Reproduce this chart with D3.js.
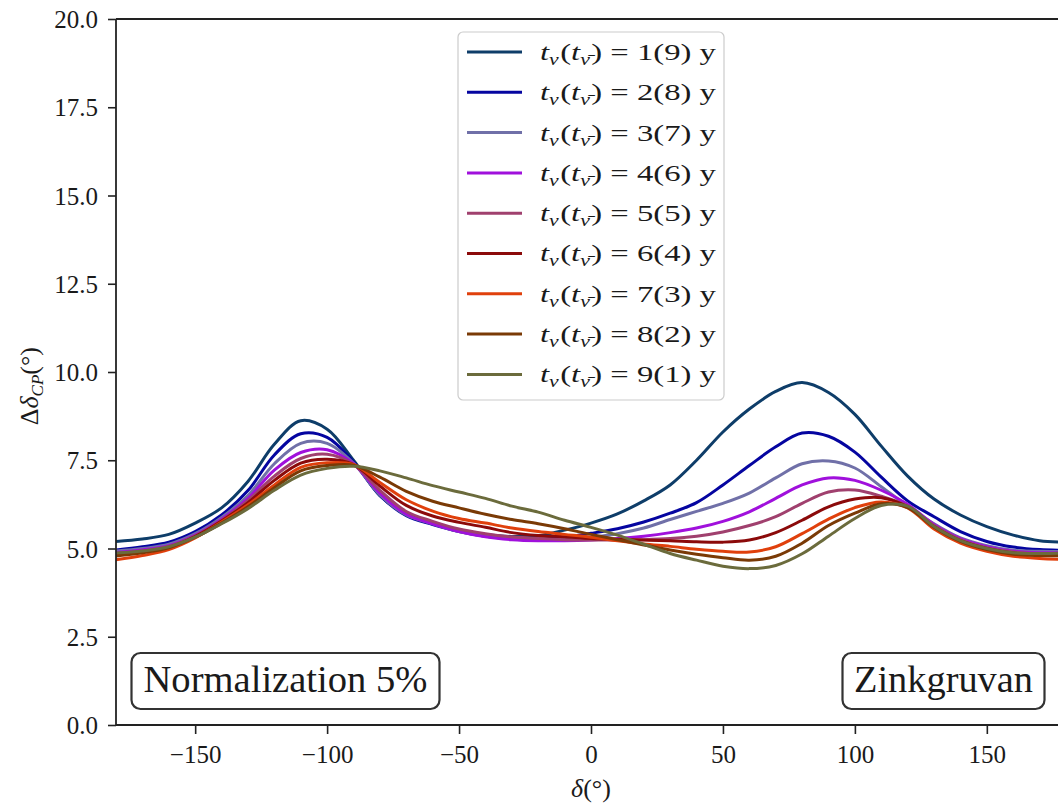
<!DOCTYPE html>
<html>
<head>
<meta charset="utf-8">
<script src="https://cdn.jsdelivr.net/npm/d3@7"></script>
<style>
html,body{margin:0;padding:0;background:#fff;}
svg{display:block;}
text{font-family:"Liberation Serif","Times New Roman",serif;fill:#1a1a1a;}
</style>
</head>
<body>
<svg id="chart" width="1058" height="808"></svg>
<script>
// ---- data ----
const deltas = [-180,-170,-160,-150,-140,-130,-120,-110,-100,-90,-80,-70,-60,-50,-40,-30,-20,-10,0,10,20,30,40,50,60,70,80,90,100,110,120,130,140,150,160,170,180];
const seriesNames = ["1(9)","2(8)","3(7)","4(6)","5(5)","6(4)","7(3)","8(2)","9(1)"];
const seriesColors = ["#0e3d69","#0505a0","#7070a8","#a010dc","#a0406e","#8b0a0a","#e0400c","#7a3a06","#6b6b3c"];
const s1 = [5.20,5.27,5.40,5.72,6.15,6.90,7.95,8.62,8.38,7.50,6.50,5.98,5.72,5.52,5.40,5.34,5.36,5.52,5.72,5.98,6.35,6.80,7.50,8.30,8.95,9.45,9.70,9.42,8.80,7.90,7.05,6.40,5.95,5.62,5.38,5.22,5.18];
const s2 = [4.96,5.05,5.18,5.48,5.95,6.64,7.65,8.25,8.15,7.45,6.50,5.93,5.68,5.48,5.35,5.28,5.26,5.32,5.43,5.56,5.75,6.00,6.30,6.80,7.35,7.88,8.27,8.18,7.73,7.02,6.35,5.90,5.48,5.20,5.04,4.97,4.95];
const s3 = [4.93,5.00,5.12,5.42,5.88,6.50,7.40,7.98,7.98,7.42,6.52,5.95,5.70,5.48,5.35,5.28,5.24,5.26,5.32,5.42,5.58,5.82,6.05,6.28,6.57,7.00,7.40,7.48,7.28,6.75,6.20,5.70,5.30,5.08,4.95,4.92,4.92];
const s4 = [4.89,4.96,5.08,5.38,5.83,6.42,7.22,7.72,7.80,7.40,6.57,5.97,5.70,5.48,5.33,5.25,5.22,5.22,5.24,5.28,5.35,5.45,5.58,5.77,6.04,6.42,6.80,7.00,6.93,6.65,6.25,5.68,5.28,5.05,4.92,4.88,4.88];
const s5 = [4.86,4.93,5.06,5.36,5.80,6.36,7.05,7.55,7.67,7.38,6.65,6.05,5.77,5.55,5.42,5.33,5.28,5.25,5.24,5.24,5.25,5.28,5.35,5.47,5.65,5.90,6.28,6.60,6.66,6.48,6.20,5.65,5.25,5.02,4.90,4.85,4.85];
const s6 = [4.82,4.90,5.03,5.34,5.78,6.30,6.93,7.42,7.53,7.38,6.77,6.22,5.92,5.74,5.60,5.45,5.37,5.33,5.28,5.26,5.24,5.22,5.19,5.18,5.24,5.45,5.80,6.18,6.40,6.44,6.18,5.62,5.22,5.00,4.87,4.82,4.81];
const s7 = [4.68,4.80,4.97,5.30,5.75,6.24,6.80,7.30,7.43,7.38,6.87,6.38,6.06,5.85,5.72,5.58,5.48,5.40,5.32,5.22,5.13,5.06,4.98,4.92,4.90,5.05,5.42,5.83,6.16,6.32,6.15,5.55,5.15,4.92,4.78,4.72,4.69];
const s8 = [4.79,4.88,5.02,5.32,5.72,6.18,6.72,7.20,7.35,7.36,7.02,6.62,6.34,6.15,5.97,5.82,5.70,5.56,5.40,5.25,5.10,4.96,4.84,4.74,4.67,4.78,5.15,5.65,6.00,6.27,6.16,5.60,5.20,4.97,4.84,4.80,4.79];
const s9 = [4.87,4.93,5.05,5.32,5.70,6.13,6.65,7.08,7.27,7.33,7.20,7.00,6.78,6.60,6.42,6.20,6.03,5.80,5.60,5.38,5.12,4.86,4.67,4.50,4.43,4.52,4.85,5.35,5.85,6.22,6.20,5.62,5.22,5.00,4.88,4.86,4.87];
const seriesValues = [s1,s2,s3,s4,s5,s6,s7,s8,s9];
const xTicks = [-150,-100,-50,0,50,100,150];
const yTicks = [0,2.5,5,7.5,10,12.5,15,17.5,20];
const annotations = ["Normalization 5%","Zinkgruvan"];

// ---- layout ----
const svg = d3.select("#chart");
const pL = 116, pT = 19, pR = 1066, pB = 725;
const x = d3.scaleLinear().domain([-180,180]).range([pL, pR]);
const y = d3.scaleLinear().domain([0,20]).range([pB, pT]);

svg.append("defs").append("clipPath").attr("id","clip")
  .append("rect").attr("x",pL).attr("y",pT).attr("width",pR-pL).attr("height",pB-pT);

// lines
const line = d3.line().x((d,i)=>x(deltas[i])).y(d=>y(d)).curve(d3.curveCatmullRom.alpha(0.5));
const g = svg.append("g").attr("clip-path","url(#clip)");
seriesValues.forEach((vals,k)=>{
  g.append("path").datum(vals).attr("d",line)
    .attr("fill","none").attr("stroke",seriesColors[k]).attr("stroke-width",3)
    .attr("stroke-linejoin","round").attr("stroke-linecap","round");
});

// axes
const xAxis = d3.axisBottom(x).tickValues(xTicks).tickSize(9).tickPadding(8).tickFormat(d3.format("d"));
const yAxis = d3.axisLeft(y).tickValues(yTicks).tickSize(8).tickPadding(10).tickFormat(d3.format(".1f"));
const gx = svg.append("g").attr("transform",`translate(0,${pB})`).call(xAxis);
const gy = svg.append("g").attr("transform",`translate(${pL},0)`).call(yAxis);
[gx,gy].forEach(a=>{
  a.attr("font-family","'Liberation Serif','Times New Roman',serif").attr("font-size",25);
  a.select(".domain").remove();
  a.selectAll(".tick line").attr("stroke","#222").attr("stroke-width",1.6);
  a.selectAll(".tick text").attr("font-size",25).attr("fill","#1a1a1a")
    .attr("font-family","'Liberation Serif','Times New Roman',serif");
});
gx.selectAll(".tick text").attr("y",38).attr("dy",0);
gy.selectAll(".tick text").attr("dy","0.34em");

// spines
const spine = svg.append("g").attr("stroke","#222").attr("stroke-width",1.8).attr("fill","none");
spine.append("line").attr("x1",pL).attr("x2",pL).attr("y1",pT).attr("y2",pB);
spine.append("line").attr("x1",pL).attr("x2",pR).attr("y1",pT).attr("y2",pT);
spine.append("line").attr("x1",pL).attr("x2",pR).attr("y1",pB).attr("y2",pB);

// axis labels
const xl = svg.append("text").attr("x",x(0)).attr("y",797).attr("text-anchor","middle").attr("font-size",26);
xl.append("tspan").attr("font-style","italic").text("δ");
xl.append("tspan").text("(°)");

const yl = svg.append("text").attr("transform",`translate(38,${y(9.6)}) rotate(-90)`).attr("text-anchor","middle").attr("font-size",26);
yl.append("tspan").text("Δ");
yl.append("tspan").attr("font-style","italic").text("δ");
yl.append("tspan").attr("font-style","italic").attr("font-size",17).attr("dy",5).text("CP");
yl.append("tspan").attr("dy",-5).text("(°)");

// legend
const legX = 458, legY = 32, legW = 266, legH = 368, rowH = 40.3;
const leg = svg.append("g");
leg.append("rect").attr("x",legX).attr("y",legY).attr("width",legW).attr("height",legH)
  .attr("rx",5).attr("fill","#fff").attr("fill-opacity",0.85).attr("stroke","#cccccc").attr("stroke-width",1.2);
seriesNames.forEach((nm,k)=>{
  const cy = legY + 20 + k*rowH;
  leg.append("line").attr("x1",legX+9).attr("x2",legX+64).attr("y1",cy).attr("y2",cy)
    .attr("stroke",seriesColors[k]).attr("stroke-width",3);
  const tx = legX+82;
  const t = leg.append("text").attr("x",tx).attr("y",cy+8).attr("font-size",24);
  t.append("tspan").attr("font-style","italic").text("t");
  t.append("tspan").attr("font-style","italic").attr("font-size",16).attr("dy",5).text("ν");
  t.append("tspan").attr("dy",-5).attr("dx",1).text("(");
  t.append("tspan").attr("font-style","italic").text("t");
  t.append("tspan").attr("font-style","italic").attr("font-size",16).attr("dy",5).text("ν̄");
  t.append("tspan").attr("dy",-5).attr("dx",1).text(") = " + nm + "  y");
  const w = t.node().getBBox().width;
  const k2 = 176 / w;
  t.attr("transform",`translate(${tx},0) scale(${k2},1) translate(${-tx},0)`);
});

// annotation boxes
function box(label, cx, cy, w, h, tw){
  svg.append("rect").attr("x",cx-w/2).attr("y",cy-h/2).attr("width",w).attr("height",h)
    .attr("rx",9).attr("fill","#fff").attr("stroke","#333").attr("stroke-width",2.2);
  svg.append("text").attr("x",cx).attr("y",cy+11).attr("text-anchor","middle").attr("font-size",38.5)
    .attr("textLength",tw).attr("lengthAdjust","spacingAndGlyphs")
    .text(label);
}
box(annotations[0], 285.5, 681, 308, 56, 284);
box(annotations[1], 943.5, 681, 202, 56, 179);
</script>
</body>
</html>
